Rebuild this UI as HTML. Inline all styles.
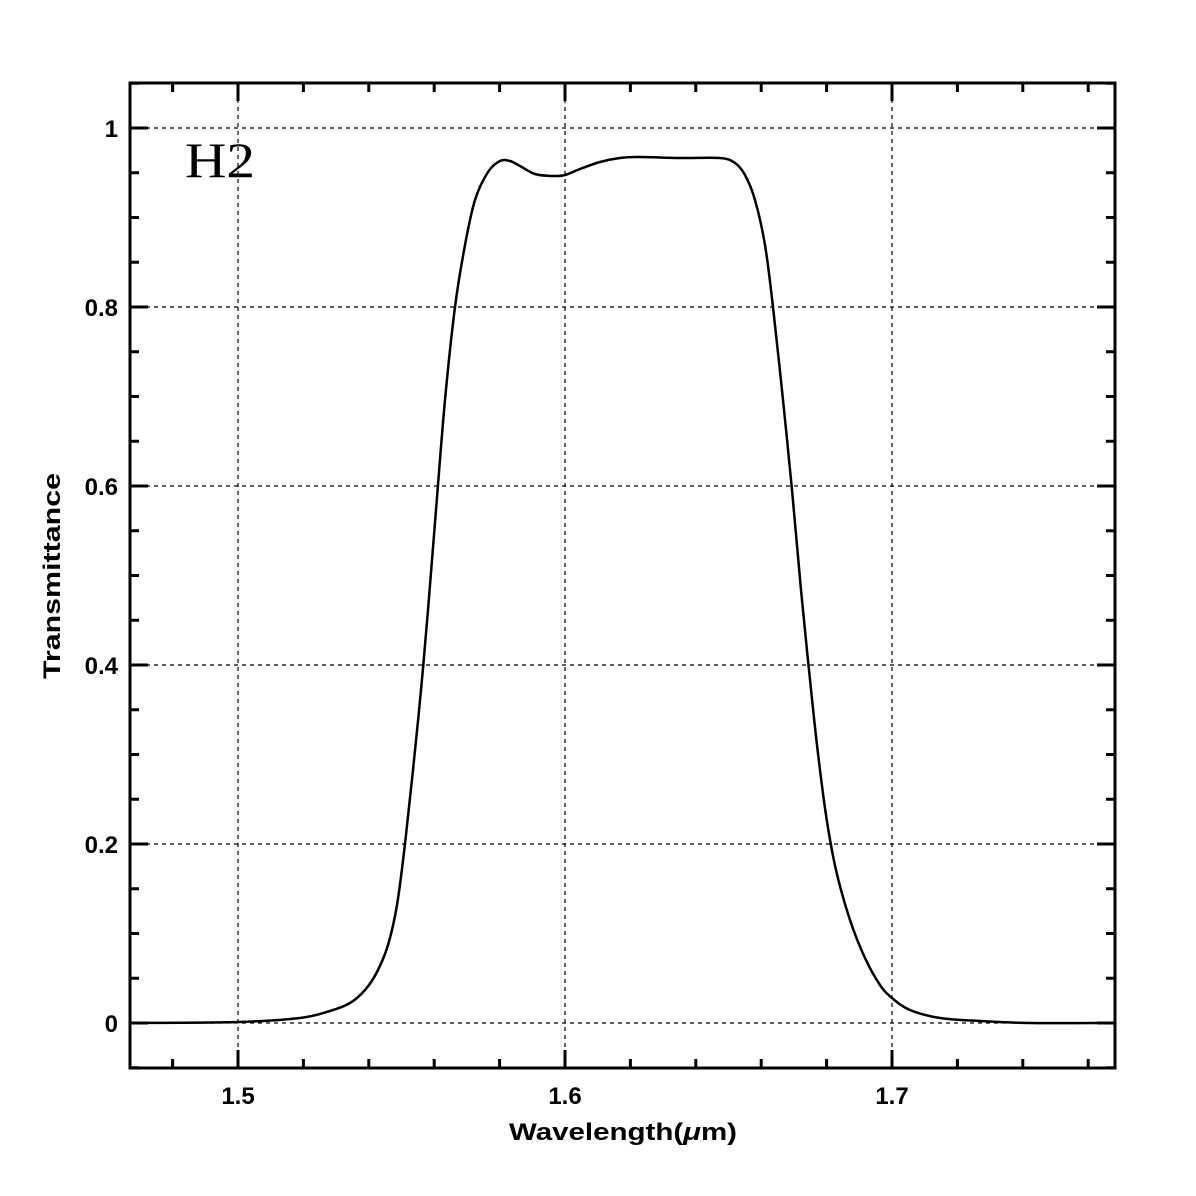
<!DOCTYPE html>
<html><head><style>body{margin:0;background:#fff}svg{display:block}</style></head><body>
<svg id="s" width="1196" height="1196" xmlns="http://www.w3.org/2000/svg" font-family="Liberation Sans, sans-serif">
<rect width="1196" height="1196" fill="#fff"/>
<g stroke="#000" stroke-width="1.2" stroke-dasharray="4,4">
<line x1="238" y1="83" x2="238" y2="1068"/><line x1="565" y1="83" x2="565" y2="1068"/><line x1="892" y1="83" x2="892" y2="1068"/>
<line x1="130" y1="128" x2="1115" y2="128"/><line x1="130" y1="307" x2="1115" y2="307"/><line x1="130" y1="486" x2="1115" y2="486"/>
<line x1="130" y1="665" x2="1115" y2="665"/><line x1="130" y1="844" x2="1115" y2="844"/><line x1="130" y1="1023" x2="1115" y2="1023"/>
</g>
<g id="ticks" stroke="#000" stroke-width="3"></g>
<rect x="130" y="83" width="985" height="985" fill="none" stroke="#000" stroke-width="3"/>
<path id="c" fill="none" stroke="#000" stroke-width="2.5"/>
<g font-weight="bold" font-size="24" text-anchor="end">
<text x="118" y="137">1</text><text x="118" y="316">0.8</text><text x="118" y="495">0.6</text><text x="118" y="674">0.4</text><text x="118" y="853">0.2</text><text x="118" y="1032">0</text>
</g>
<g font-weight="bold" font-size="24" text-anchor="middle">
<text x="238" y="1104">1.5</text><text x="565" y="1104">1.6</text><text x="892" y="1104">1.7</text>
<text x="623" y="1140" textLength="228" lengthAdjust="spacingAndGlyphs">Wavelength(<tspan font-style="italic">μ</tspan>m)</text>
<text transform="translate(60,576) rotate(-90)" textLength="206" lengthAdjust="spacingAndGlyphs">Transmittance</text>
</g>
<text x="185" y="177" font-family="Liberation Serif, serif" font-size="50" textLength="70" lengthAdjust="spacingAndGlyphs">H2</text>
</svg>
<script>
var t=document.getElementById('ticks'),h='';
for(var i=0;i<16;i++){var x=172.6+65.4*i;if(x>1115)break;var maj=Math.abs(((x-238)/327)-Math.round((x-238)/327))<0.01;var L=maj?18:9;
h+='<line x1="'+x+'" y1="1068" x2="'+x+'" y2="'+(1068-L)+'"/><line x1="'+x+'" y1="83" x2="'+x+'" y2="'+(83+L)+'"/>';}
for(var j=-1;j<22;j++){var y=1023-44.75*j;if(y<83||y>1068)continue;var L=(j%4==0)?18:9;
h+='<line x1="130" y1="'+y+'" x2="'+(130+L)+'" y2="'+y+'"/><line x1="1115" y1="'+y+'" x2="'+(1115-L)+'" y2="'+y+'"/>';}
t.innerHTML=h;
var p=[[130,1023],[238,1022],[300,1018],[330,1011],[350,1003],[365,990],[377,972],[388,945],[397,905],[405,844],[413,770],[421,690],[428,610],[436,510],[445,400],[455,307],[465,245],[475,200],[488,172],[500,161],[510,161],[520,166],[535,174],[552,176],[565,175],[580,169],[600,162],[620,158],[640,157],[680,158],[720,158],[735,163],[745,175],[755,200],[765,245],[773,307],[783,400],[792,490],[801,590],[809,670],[817,745],[826,815],[836,870],[850,920],[865,958],[880,985],[892,998],[910,1010],[940,1018],[980,1021],[1030,1023],[1115,1023]];
var d='M'+p[0][0]+','+p[0][1];
for(var k=0;k<p.length-1;k++){var p0=p[Math.max(k-1,0)],p1=p[k],p2=p[k+1],p3=p[Math.min(k+2,p.length-1)];
d+='C'+(p1[0]+(p2[0]-p0[0])/6)+','+(p1[1]+(p2[1]-p0[1])/6)+' '+(p2[0]-(p3[0]-p1[0])/6)+','+(p2[1]-(p3[1]-p1[1])/6)+' '+p2[0]+','+p2[1];}
document.getElementById('c').setAttribute('d',d);
</script>
</body></html>
